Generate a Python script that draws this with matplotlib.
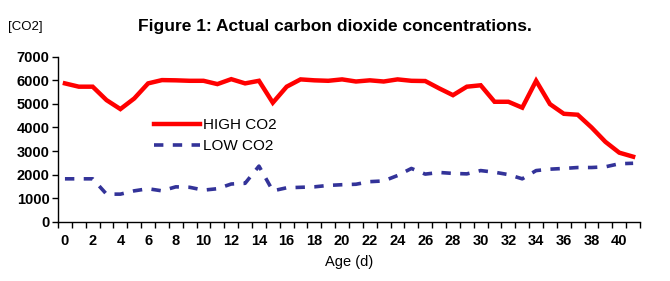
import matplotlib.pyplot as plt

# data
age = list(range(42))
high_co2 = [5870, 5730, 5730, 5160, 4780, 5230, 5870, 6010, 6000, 5980,
            5980, 5840, 6050, 5870, 5980, 5050, 5730, 6040, 6000, 5980,
            6040, 5950, 6000, 5950, 6040, 5980, 5970, 5660, 5370, 5730,
            5790, 5090, 5090, 4840, 5980, 4990, 4580, 4540, 4000, 3390,
            2930, 2760]
low_co2 = [1820, 1820, 1820, 1170, 1170, 1310, 1400, 1310, 1480, 1460,
           1340, 1400, 1600, 1630, 2360, 1310, 1440, 1460, 1480, 1540,
           1570, 1590, 1700, 1730, 1960, 2260, 2020, 2090, 2050, 2030,
           2170, 2100, 2000, 1820, 2170, 2230, 2260, 2300, 2300, 2330,
           2460, 2480]
y_ticks = [0, 1000, 2000, 3000, 4000, 5000, 6000, 7000]

plt.rcParams['font.family'] = ['Liberation Sans', 'DejaVu Sans']

fig = plt.figure(figsize=(6.7, 2.81), dpi=100)
ax = fig.add_axes([0.0866, 0.211, 0.8687, 0.587])

ax.plot(age, high_co2, color='#FF0000', lw=3.2, label='HIGH CO2', solid_joinstyle='miter')
ax.plot(age, low_co2, color='#333399', lw=2.6, dashes=(2.6, 2.6), label='LOW CO2')

ax.set_xlim(-0.5, 41.5)
ax.set_ylim(0, 7000)
ax.set_yticks(y_ticks)
ax.set_yticklabels([str(v) for v in y_ticks], fontsize=10.5, fontweight='bold')

# tick marks between categories, labels on every second category
ax.set_xticks([i - 0.5 for i in range(43)])
ax.set_xticklabels([])
ax.set_xticks(age[::2], minor=True)
ax.set_xticklabels([str(a) for a in age[::2]], minor=True, fontsize=10.5, fontweight='bold')
ax.tick_params(axis='x', which='major', direction='out', length=4, width=1)
ax.tick_params(axis='x', which='minor', length=0, pad=9)
ax.tick_params(axis='y', direction='out', length=4, width=1, pad=2)

for s in ['top', 'right']:
    ax.spines[s].set_visible(False)
ax.spines['left'].set_linewidth(1)
ax.spines['bottom'].set_linewidth(1)

ax.set_xlabel('Age (d)', fontsize=10.5, labelpad=5)

ax.legend(loc='upper left', bbox_to_anchor=(0.155, 0.665), frameon=False,
          fontsize=11, handlelength=3.0, handletextpad=0.2, labelspacing=0.45,
          borderaxespad=0)

fig.text(0.012, 0.905, '[CO2]', fontsize=9.5, va='center')
fig.text(0.5, 0.905, 'Figure 1: Actual carbon dioxide concentrations.',
         fontsize=12.5, fontweight='bold', ha='center', va='center')

fig.savefig('out.png', dpi=100)
